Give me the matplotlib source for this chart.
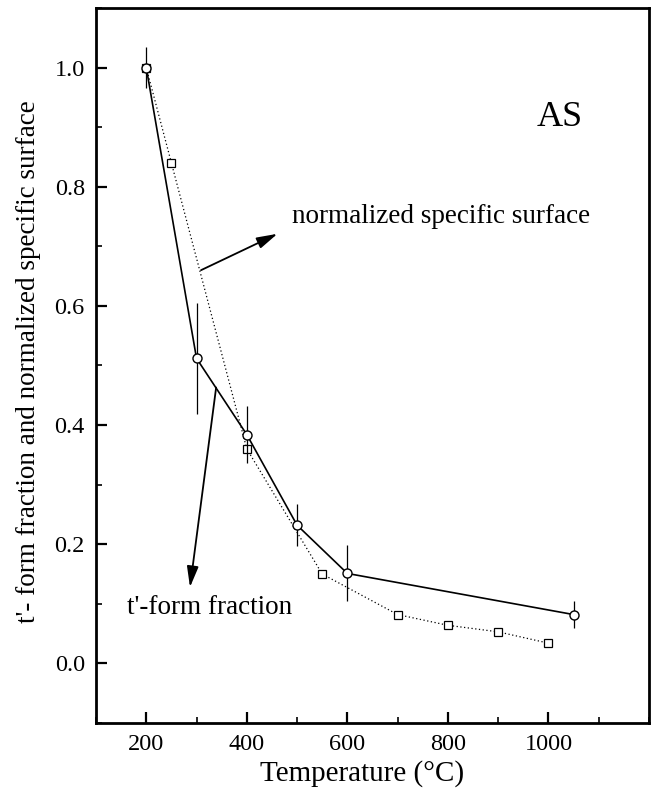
import numpy as np
import matplotlib
matplotlib.use("Agg")
import matplotlib.pyplot as plt
from matplotlib.ticker import MultipleLocator

# ------------------------------------------
# Data
# ------------------------------------------

# t'-form fraction (open circles, solid line)
temp_form = [200, 300, 400, 500, 600, 1050]
form_fraction = [1.000, 0.512, 0.384, 0.232, 0.151, 0.082]
form_err = [0.035, 0.093, 0.048, 0.035, 0.047, 0.023]

# normalized specific surface (open squares, dotted line)
temp_surf = [200, 250, 400, 550, 700, 800, 900, 1000]
surf_norm = [1.000, 0.840, 0.360, 0.150, 0.082, 0.064, 0.053, 0.034]

plt.rcParams["font.family"] = ["Liberation Serif", "DejaVu Serif"]

fig = plt.figure(figsize=(6.52, 7.90), dpi=100)
ax = fig.add_axes([0.1472, 0.0848, 0.8482, 0.9051])

# specific surface first so the circles sit on top
ax.plot(temp_surf, surf_norm, color="black", lw=0.9,
        linestyle=(0, (1, 2)), marker="s", markersize=5.5,
        markerfacecolor="white", markeredgecolor="black",
        markeredgewidth=0.9, zorder=2)

ax.errorbar(temp_form, form_fraction, yerr=form_err, color="black",
            lw=1.2, elinewidth=0.9, capsize=0, marker="o",
            markersize=6.5, markerfacecolor="white",
            markeredgecolor="black", markeredgewidth=1.0, zorder=3)

# annotations
arrow_style = dict(arrowstyle="-|>,head_length=0.9,head_width=0.25",
                   color="black", lw=1.3, mutation_scale=14,
                   shrinkA=0, shrinkB=0)

ax.annotate("", xy=(461, 0.721), xytext=(309, 0.66),
            arrowprops=arrow_style)
ax.text(490, 0.75, "normalized specific surface", fontsize=19.5,
        ha="left", va="center")

ax.annotate("", xy=(287, 0.128), xytext=(339, 0.463),
            arrowprops=arrow_style)
ax.text(162, 0.094, "t'-form fraction", fontsize=19.5,
        ha="left", va="center")

ax.text(1022, 0.916, "AS", fontsize=26, ha="center", va="center")

# axes
ax.set_xlim(100, 1200)
ax.set_ylim(-0.1, 1.1)
ax.set_xticks([200, 400, 600, 800, 1000])
ax.set_yticks([0.0, 0.2, 0.4, 0.6, 0.8, 1.0])
ax.set_yticklabels(["0.0", "0.2", "0.4", "0.6", "0.8", "1.0"])
ax.xaxis.set_minor_locator(MultipleLocator(100))
ax.yaxis.set_minor_locator(MultipleLocator(0.1))

ax.tick_params(which="both", direction="in", top=False, right=False,
               labelsize=17.5)
ax.tick_params(which="major", length=8, width=1.6, pad=8)
ax.tick_params(which="minor", length=4, width=1.2)

for spine in ax.spines.values():
    spine.set_linewidth(2.0)

ax.set_xlabel("Temperature (°C)", fontsize=21)
ax.xaxis.set_label_coords(0.481, -0.052)
ax.set_ylabel("t'- form fraction and normalized specific surface",
              fontsize=19.5)
ax.yaxis.set_label_coords(-0.1, 0.505)

fig.savefig("out.png", dpi=100)
